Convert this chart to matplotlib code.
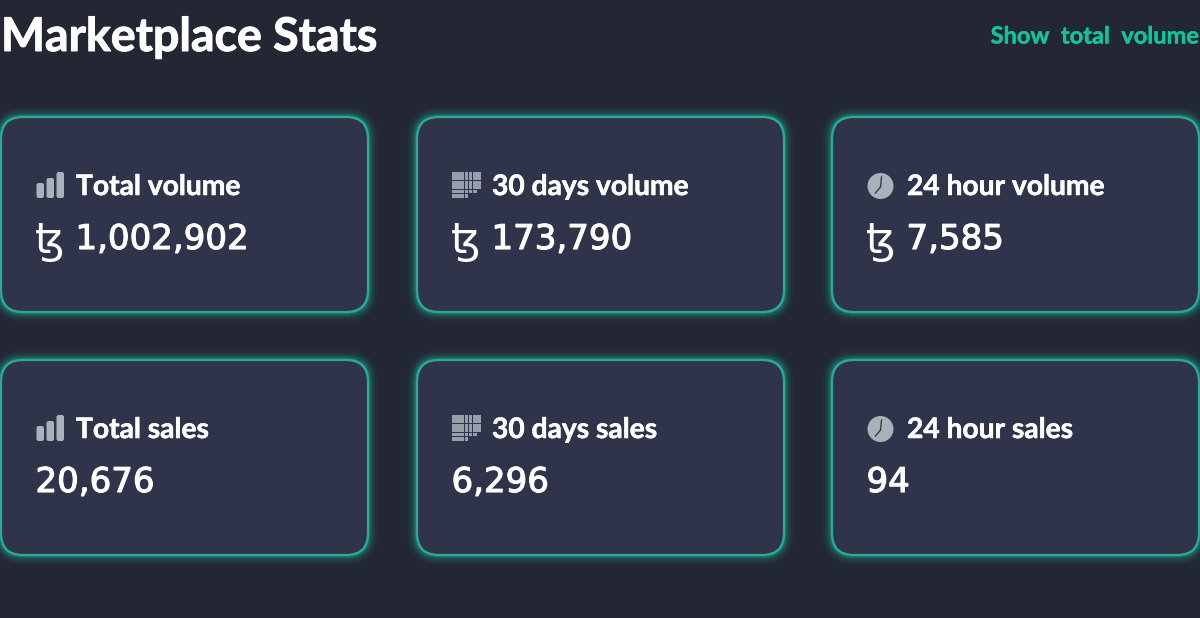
import matplotlib
matplotlib.use("Agg")
import matplotlib.pyplot as plt
import matplotlib.patheffects as pe
from matplotlib.patches import FancyBboxPatch, Rectangle, Circle

BG = "#232633"
CARD = "#30344b"
TEAL = "#1fb096"
BORDER = "#27ad97"
GREEN = "#10c49c"
ICON = "#a9b1bb"

title = "Marketplace Stats"
toggle = "Show  total  volume"
labels = [["Total volume", "30 days volume", "24 hour volume"],
          ["Total sales", "30 days sales", "24 hour sales"]]
values = [["1,002,902", "173,790", "7,585"],
          ["20,676", "6,296", "94"]]
has_tez = [True, False]
icons = ["bars", "grid", "clock"]

card_x = [1, 417, 832]
card_y = [117, 360]
card_w, card_h = 367, 195

fig = plt.figure(figsize=(12, 6.18), dpi=100, facecolor=BG)
ax = fig.add_axes([0, 0, 1, 1])
ax.set_xlim(0, 1200)
ax.set_ylim(618, 0)
ax.axis("off")


def thick(w, color):
    return [pe.withStroke(linewidth=w, foreground=color)]


def card(x, y):
    box = "round,pad=0,rounding_size=22"
    for g, a in [(11, .03), (9, .05), (7, .07), (5.5, .10), (4, .15), (2.5, .22), (1.5, .3)]:
        ax.add_patch(FancyBboxPatch((x - g, y - g), card_w + 2 * g, card_h + 2 * g,
                                    boxstyle=f"round,pad=0,rounding_size={22 + g}",
                                    fc=TEAL, ec="none", alpha=a, zorder=1))
    ax.add_patch(FancyBboxPatch((x, y), card_w, card_h, boxstyle=box,
                                fc=CARD, ec=BORDER, lw=1.6, zorder=2))


def icon(kind, x, y):
    if kind == "bars":
        for dx, h in [(0, 15), (10, 20), (20, 26)]:
            ax.add_patch(FancyBboxPatch((x + dx + .5, y + 12 - h), 7.5, h,
                                        boxstyle="round,pad=0,rounding_size=2.2",
                                        fc=ICON, ec="none", zorder=3))
    elif kind == "grid":
        for r in range(6):
            for c in range(7):
                if r == 5 and c > 3 or r == 4 and c > 5:
                    continue
                ax.add_patch(Rectangle((x + c * 4.2, y - 14 + r * 4.4), 3.5, 3.7,
                                       fc=ICON, ec="none", alpha=.85, zorder=3))
    else:
        cx, cy = x + 13.5, y
        ax.add_patch(Circle((cx, cy), 13, fc=ICON, ec="none", zorder=3))
        ax.plot([cx, cx + 1], [cy + 1, cy - 9], color="#3a3d50", lw=1.0, zorder=4)
        ax.plot([cx, cx - 5], [cy + 1, cy + 7], color="#3a3d50", lw=1.0, zorder=4)


ax.text(1, 37, title, color="white", fontsize=33.5, fontweight="bold",
        family="Lato", va="center", ha="left", zorder=5, path_effects=thick(.7, "white"))
ax.text(1199, 36, toggle, color=GREEN, fontsize=17, fontweight="bold",
        family="Lato", va="center", ha="right", zorder=5, path_effects=thick(.3, GREEN))

for r, y in enumerate(card_y):
    for c, x in enumerate(card_x):
        card(x, y)
        icon(icons[c], x + 35, y + 69)
        ax.text(x + 75, y + 70, labels[r][c], color="white", fontsize=20.3,
                fontweight="bold", family="Lato", va="center", ha="left", zorder=5,
                path_effects=thick(.4, "white"))
        if has_tez[r]:
            ax.text(x + 34, y + 124, "\ua729", color="white", fontsize=30,
                    family="DejaVu Sans", va="center", ha="left", zorder=5)
            vx = x + 74.5
        else:
            vx = x + 34.5
        ax.text(vx, y + 122.5, values[r][c], color="white", fontsize=24.5,
                family="DejaVu Sans", va="center", ha="left", zorder=5,
                path_effects=thick(.8, "white"))

fig.savefig("out.png", dpi=100, facecolor=BG)
